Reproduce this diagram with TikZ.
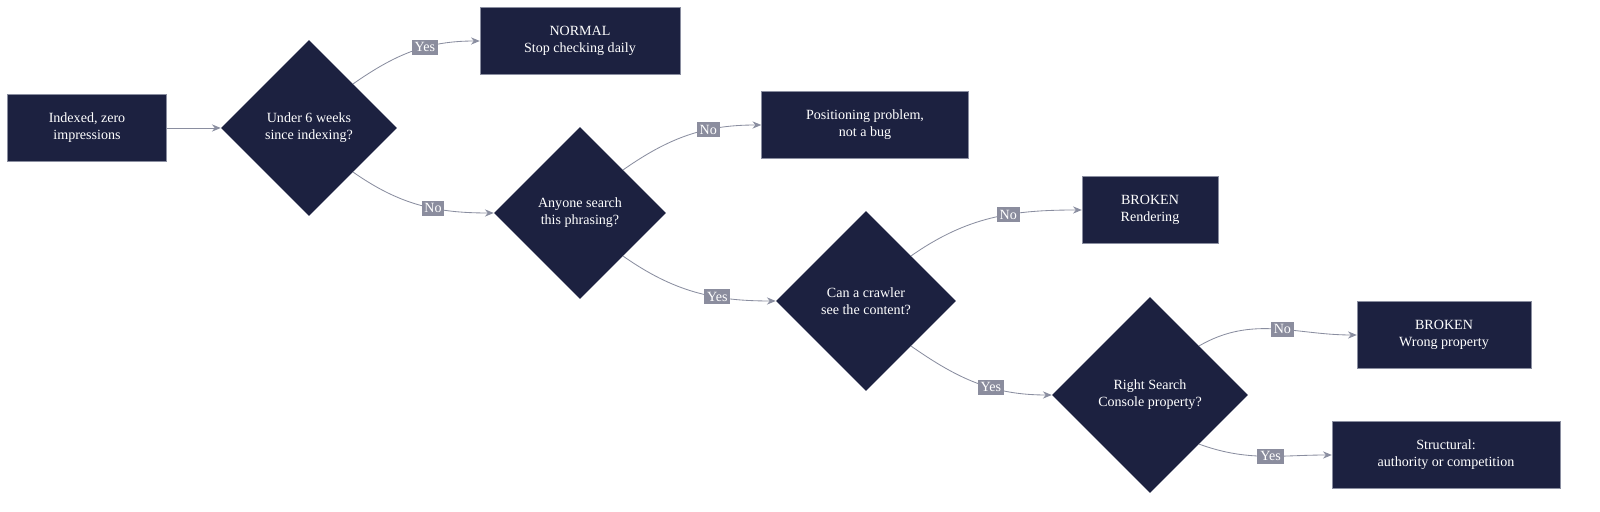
\documentclass[tikz,border=0pt]{standalone}
\usepackage{fontspec}
\setmainfont{Liberation Serif}
\usetikzlibrary{shapes.geometric,arrows.meta}
\definecolor{navy}{HTML}{1C2140}
\definecolor{wire}{HTML}{8A8EA0}
\definecolor{tagfill}{HTML}{8B8D9E}
\tikzset{>={Stealth[length=2.2mm,width=1.8mm]}}
\tikzset{
  outcome/.style = {fill=navy, draw=wire, line width=0.3pt, text=white, align=center,
    minimum height=1.675cm, font=\fontsize{10}{12}\selectfont},
  ask/.style = {diamond, aspect=1, inner sep=0pt, fill=navy, text=white, align=center,
    font=\fontsize{10}{12}\selectfont},
  flow/.style = {->, wire, line width=0.6pt},
  answer/.style = {fill=tagfill, text=white, inner sep=2pt, font=\fontsize{10}{12}\selectfont}
}

\begin{document}
\begin{tikzpicture}
  \useasboundingbox (0,0) rectangle (40,-12.8);
  \node[outcome, minimum width=3.975cm] (start) at (2.175,-3.2) {Indexed, zero\\impressions};
  \node[ask, minimum size=4.4cm] (weeks) at (7.725,-3.2) {Under 6 weeks\\since indexing?};
  \node[outcome, minimum width=5cm] (normal) at (14.5,-1.025) {NORMAL\\Stop checking daily};
  \node[ask, minimum size=4.3cm] (phrase) at (14.5,-5.325) {Anyone search\\this phrasing?};
  \node[outcome, minimum width=5.175cm] (position) at (21.625,-3.125) {Positioning problem,\\not a bug};
  \node[ask, minimum size=4.5cm] (crawl) at (21.65,-7.525) {Can a crawler\\see the content?};
  \node[outcome, minimum width=3.4cm] (render) at (28.75,-5.25) {BROKEN\\Rendering};
  \node[ask, minimum size=4.9cm] (property) at (28.75,-9.875) {Right Search\\Console property?};
  \node[outcome, minimum width=4.35cm] (wrong) at (36.1,-8.375) {BROKEN\\Wrong property};
  \node[outcome, minimum width=5.7cm] (struct) at (36.15,-11.375) {Structural:\\authority or competition};

  \draw[flow] (start) -- (weeks);
  \draw[flow] (weeks.north east) to[out=35,in=180] node[answer,pos=0.6] {Yes} (normal.west);
  \draw[flow] (weeks.south east) to[out=-35,in=180] node[answer,pos=0.6] {No} (phrase.west);
  \draw[flow] (phrase.north east) to[out=35,in=180] node[answer,pos=0.65] {No} (position.west);
  \draw[flow] (phrase.south east) to[out=-35,in=180] node[answer,pos=0.65] {Yes} (crawl.west);
  \draw[flow] (crawl.north east) to[out=35,in=180] node[answer,pos=0.6] {No} (render.west);
  \draw[flow] (crawl.south east) to[out=-35,in=180] node[answer,pos=0.6] {Yes} (property.west);
  \draw[flow] (property.north east) to[out=30,in=180] node[answer,pos=0.55] {No} (wrong.west);
  \draw[flow] (property.south east) to[out=-20,in=180] node[answer,pos=0.55] {Yes} (struct.west);
\end{tikzpicture}
\end{document}
